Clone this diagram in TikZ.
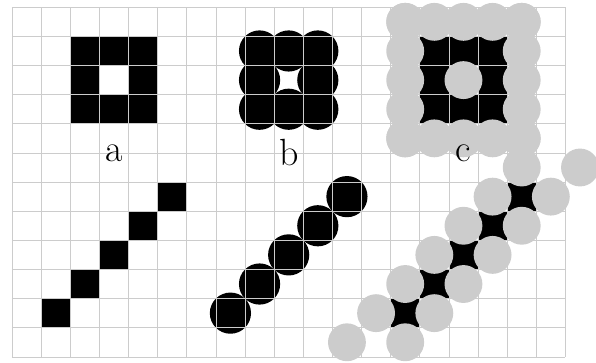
\documentclass[tikz,border=0pt]{standalone}
\usepackage{fontspec}
\begin{document}
\begin{tikzpicture}[x=1cm,y=1cm,
  pix/.style={fill=black},
  bdisc/.style={fill=black},
  gdisc/.style={fill=gray!40},
  gridline/.style={draw=gray!40,line width=0.6pt},
  lab/.style={font=\fontsize{37}{40}\selectfont, inner sep=0pt}]
\useasboundingbox (-0.41,-0.18) rectangle (20.05,12.25);
% (a) square of pixels
\foreach \x/\y in {2/8,3/8,4/8,2/9,4/9,2/10,3/10,4/10}
  \fill[pix] (\x,\y) rectangle ++(1,1);
% (b) discs on the square
\foreach \x/\y in {8/8,9/8,10/8,8/9,10/9,8/10,9/10,10/10}
  \fill[bdisc] (\x+0.5,\y+0.5) circle (0.707);
% (c) square with complement discs
\foreach \x/\y in {14/8,15/8,16/8,14/9,16/9,14/10,15/10,16/10}
  \fill[pix] (\x,\y) rectangle ++(1,1);
\foreach \i in {0,...,4}{
  \fill[gdisc] (13.5+\i,7.5) circle (0.65);
  \fill[gdisc] (13.5+\i,11.5) circle (0.65);
  \fill[gdisc] (13.5,7.5+\i) circle (0.65);
  \fill[gdisc] (17.5,7.5+\i) circle (0.65);
}
\fill[gdisc] (15.5,9.5) circle (0.65);
% (a) diagonal line of pixels
\foreach \i in {0,...,4}
  \fill[pix] (1+\i,1+\i) rectangle ++(1,1);
% (b) diagonal line of discs
\foreach \i in {0,...,4}
  \fill[bdisc] (7.5+\i,1.5+\i) circle (0.707);
% (c) diagonal line with complement discs
\foreach \i in {0,...,4}
  \fill[pix] (13+\i,1+\i) rectangle ++(1,1);
\foreach \i in {0,...,6}{
  \fill[gdisc] (11.5+\i,0.5+\i) circle (0.65);
  \fill[gdisc] (13.5+\i,0.5+\i) circle (0.65);
}
% grid
\draw[gridline] (0,0) grid (19,12);
% labels
\node[lab] (la) at (3.5,7) {a};
\node[lab] (lb) at (9.5,7) {b};
\node[lab] (lc) at (15.5,7) {c};
\end{tikzpicture}
\end{document}
